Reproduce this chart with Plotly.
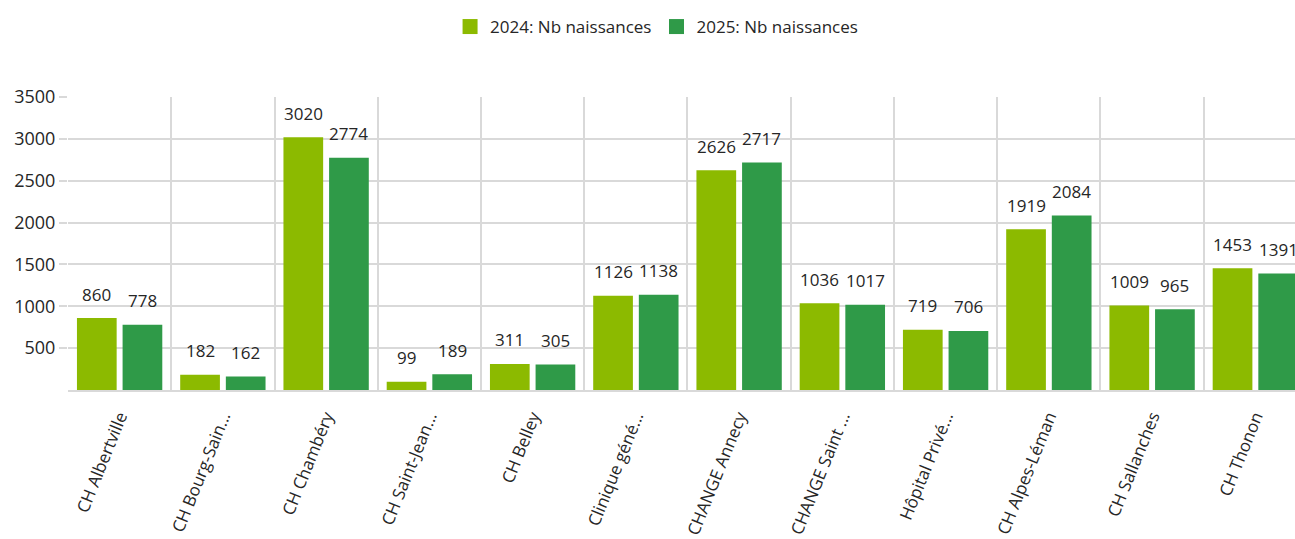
import plotly.graph_objects as go

categories = ["CH Albertville", "CH Bourg-Sain...", "CH Chambéry", "CH Saint-Jean...",
              "CH Belley", "Clinique géné...", "CHANGE Annecy", "CHANGE Saint ...",
              "Hôpital Privé...", "CH Alpes-Léman", "CH Sallanches", "CH Thonon"]
naiss_2024 = [860, 182, 3020, 99, 311, 1126, 2626, 1036, 719, 1919, 1009, 1453]
naiss_2025 = [778, 162, 2774, 189, 305, 1138, 2717, 1017, 706, 2084, 965, 1391]
series_names = ["2024: Nb naissances", "2025: Nb naissances"]
y_ticks = [500, 1000, 1500, 2000, 2500, 3000, 3500]

C24 = "#8cba00"
C25 = "#2f9a48"
FONT = "Open Sans"
TXT = "#262626"
GRID = "#d9d9d9"

fig = go.Figure()
fig.add_trace(go.Bar(x=categories, y=naiss_2024, name=series_names[0], showlegend=False,
                     marker=dict(color=C24, line=dict(width=0))))
fig.add_trace(go.Bar(x=categories, y=naiss_2025, name=series_names[1], showlegend=False,
                     marker=dict(color=C25, line=dict(width=0))))
# legend entries with larger square swatches
for name, col in zip(series_names, (C24, C25)):
    fig.add_trace(go.Scatter(x=[None], y=[None], mode="markers", name=name,
                             marker=dict(symbol="square", size=15, color=col,
                                         line=dict(width=0))))

annotations = []
for vals, shift in ((naiss_2024, -22.8), (naiss_2025, 22.8)):
    for c, v in zip(categories, vals):
        annotations.append(dict(x=c, y=v, xref="x", yref="y", text=str(v),
                                showarrow=False, xshift=shift, yshift=24,
                                yanchor="middle", xanchor="center",
                                font=dict(family=FONT, size=17, color=TXT)))

fig.update_layout(
    width=1295, height=539,
    margin=dict(l=68, r=0, t=97, b=149),
    paper_bgcolor="white", plot_bgcolor="white",
    barmode="group", bargap=0.116, bargroupgap=0.13,
    font=dict(family=FONT, size=16, color=TXT),
    legend=dict(orientation="h", xref="container", yref="container",
                x=0.507, y=1 - 27 / 539, xanchor="center", yanchor="middle",
                font=dict(family=FONT, size=17, color=TXT), itemsizing="trace",
                itemwidth=30, tracegroupgap=0),
    annotations=annotations,
    xaxis=dict(type="category", range=[-0.5, 11.384], tickson="boundaries",
               showgrid=True, gridcolor=GRID, gridwidth=2,
               showline=True, linecolor=GRID, linewidth=2,
               ticks="", tickangle=-68, ticklabelstandoff=8,
               tickfont=dict(family=FONT, size=17, color=TXT)),
    yaxis=dict(range=[0, 3500], tickvals=y_ticks, ticktext=[str(t) for t in y_ticks],
               showgrid=True, gridcolor=GRID, gridwidth=2, zeroline=False,
               ticks="outside", ticklen=8, tickcolor=GRID, tickwidth=2,
               tickfont=dict(family=FONT, size=18, color=TXT)),
)

fig.write_html("out.html")
